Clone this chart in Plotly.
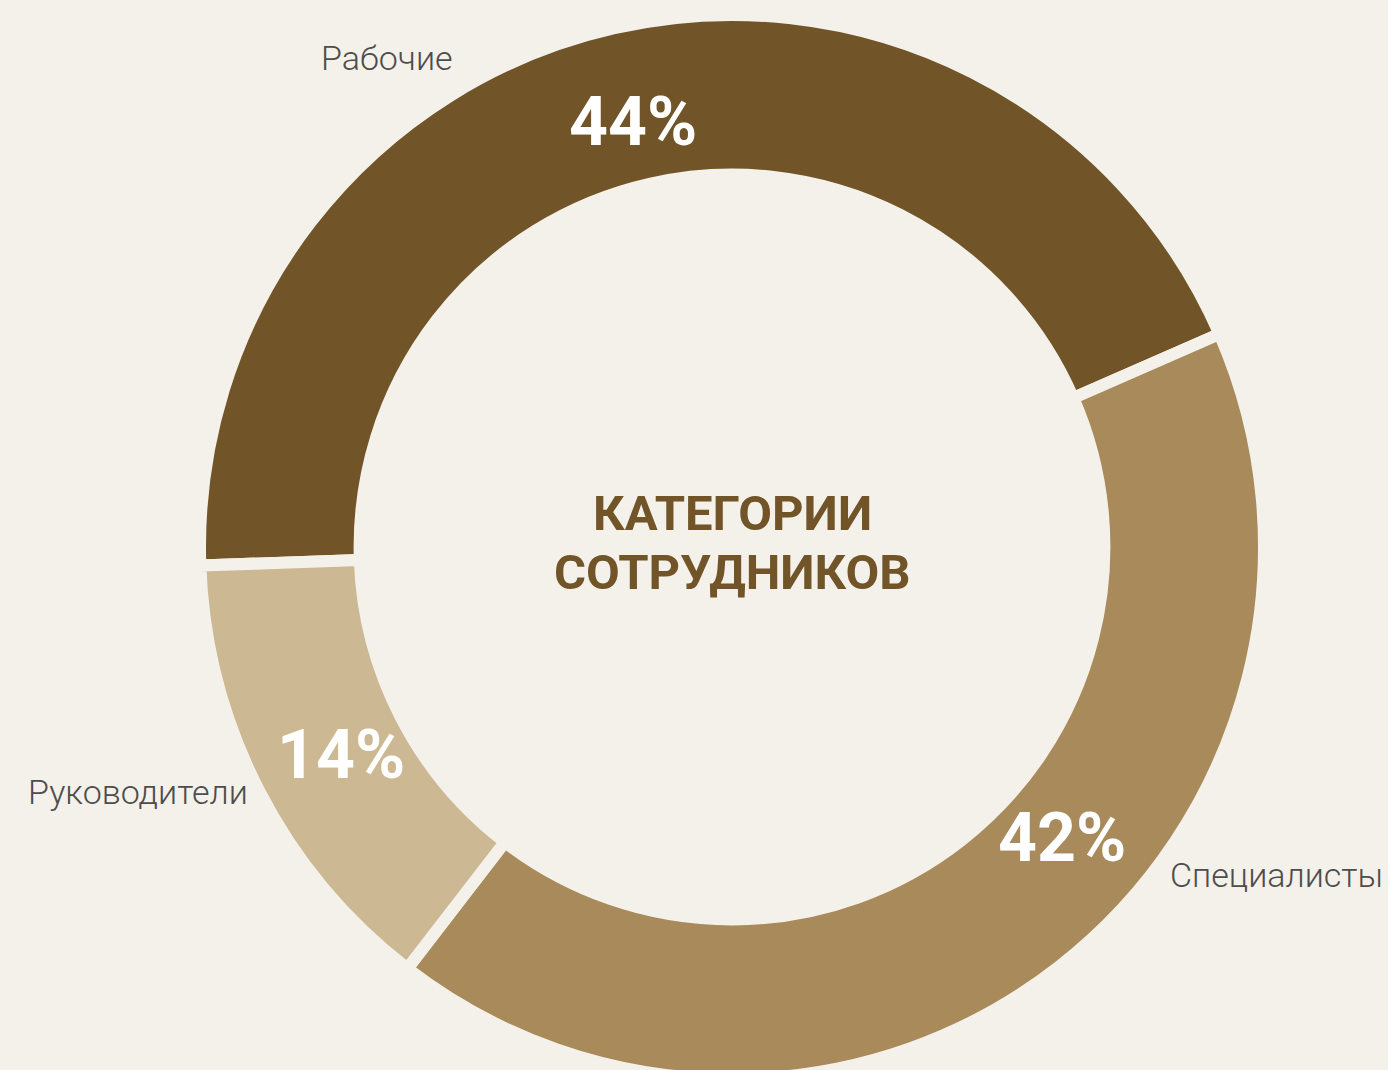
import plotly.graph_objects as go

W, H = 1388, 1080

categories = ["Рабочие", "Специалисты", "Руководители"]
shares = [44, 42, 14]
colors = ["#715427", "#a98a5b", "#cdb894"]
title_lines = ["КАТЕГОРИИ", "СОТРУДНИКОВ"]

BG = "#f4f1ea"

# where text sits on the picture, in pixels from the top-left corner
pct_pos = [(633, 122), (1062, 838), (341, 755)]
label_pos = [(387, 58), (1276, 875), (138, 792)]

cx, cy, r = 732, 547, 532


def px(x, y):
    return x / W, 1 - y / H


fig = go.Figure(
    go.Pie(
        labels=categories,
        values=shares,
        sort=False,
        direction="clockwise",
        rotation=-92,
        hole=0.70,
        marker=dict(colors=colors, line=dict(color=BG, width=12)),
        textinfo="none",
        hoverinfo="label+percent",
        showlegend=False,
        domain=dict(x=[(cx - r) / W, (cx + r) / W],
                    y=[1 - (cy + r) / H, 1 - (cy - r) / H]),
    )
)

annotations = []
for share, (x, y) in zip(shares, pct_pos):
    ax, ay = px(x, y)
    annotations.append(dict(
        x=ax, y=ay, xref="paper", yref="paper", text=f"<b>{share}%</b>",
        showarrow=False, xanchor="center", yanchor="middle",
        font=dict(family="Roboto", size=68, color="white"),
    ))
for name, (x, y) in zip(categories, label_pos):
    ax, ay = px(x, y)
    annotations.append(dict(
        x=ax, y=ay, xref="paper", yref="paper", text=name,
        showarrow=False, xanchor="center", yanchor="middle",
        font=dict(family="Roboto", size=34, color="#4d4d4d", weight=300),
    ))
for line, y in zip(title_lines, [513, 572]):
    ax, ay = px(cx, y)
    annotations.append(dict(
        x=ax, y=ay, xref="paper", yref="paper", text=f"<b>{line}</b>",
        showarrow=False, xanchor="center", yanchor="middle",
        font=dict(family="Roboto", size=49, color="#715427"),
    ))

fig.update_layout(
    width=W,
    height=H,
    margin=dict(l=0, r=0, t=0, b=0),
    paper_bgcolor=BG,
    plot_bgcolor=BG,
    annotations=annotations,
)

fig.write_html(
    "out.html",
    config={"displayModeBar": False},
    post_script="document.body.style.margin='0';"
                "document.body.style.overflow='hidden';"
                f"document.body.style.background='{BG}';",
)
